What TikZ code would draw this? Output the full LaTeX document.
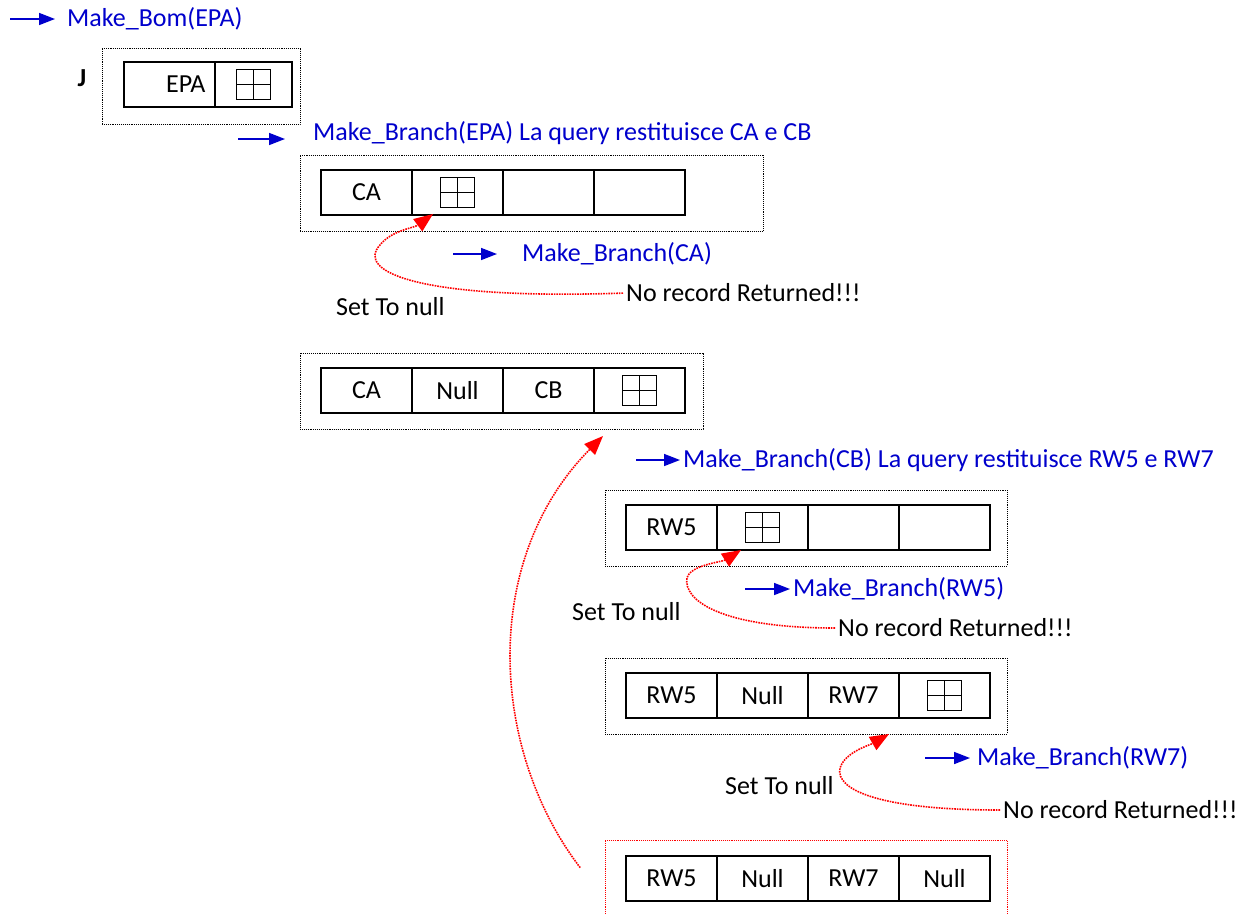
\documentclass[tikz,border=0pt]{standalone}
\usepackage{fontspec}
\setmainfont{Carlito}
\usetikzlibrary{positioning,arrows.meta}

\definecolor{callblue}{RGB}{0,0,204}
\newcommand\bomfont{\fontsize{26pt}{31pt}\selectfont}

\tikzset{
  cell/.style={draw, line width=1.6pt, minimum width=91pt, minimum height=45pt, inner sep=0pt, outer sep=0pt},
  frame/.style={draw, densely dotted, line width=0.9pt, anchor=north west, minimum height=76pt, outer sep=0pt},
  ptr/.style={draw, line width=1.8pt, minimum width=34pt, minimum height=30pt, inner sep=0pt,
    path picture={\draw[line width=1.8pt] (path picture bounding box.north) -- (path picture bounding box.south)
      (path picture bounding box.west) -- (path picture bounding box.east);}},
  call/.style={callblue, line width=1.6pt, -{Triangle[length=16pt,width=12pt]}},
  calltext/.style={text=callblue, anchor=west, inner sep=0pt},
  note/.style={anchor=west, inner sep=0pt},
  back/.style={red, densely dotted, line width=1.6pt, shorten <=3pt, -{Triangle[length=19pt,width=15pt]}},
}

\begin{document}
\begin{tikzpicture}[x=1pt, y=-1pt, font=\bomfont] % make_bom / make_branch trace
    \useasboundingbox (0,0) rectangle (1245,914);

    % call of the root
    \coordinate (s0) at (10,19);
    \node[calltext] (t0) at (67,19) {Make\_Bom(EPA)};
    \draw[call] (s0) -- (t0.west) [shorten >=12pt];

    \node[frame, minimum width=198pt] (fj) at (102,48) {};
    \node[font=\bomfont\bfseries] (j) at (82,78) {J};
    \node[cell, anchor=north west, text width=72pt, align=right] (j1) at (124,62) {EPA};
    \node[cell, minimum width=77pt, right=0pt of j1] (j2) {};
    \node[ptr] (pj) at (j2) {};

    % first branch: CA and CB
    \coordinate (s1) at (238,139);
    \node[calltext] (t1) at (313,133) {Make\_Branch(EPA) La query restituisce CA e CB};
    \draw[call] (s1) -- (s1 -| t1.west) [shorten >=28pt];

    \node[frame, minimum width=463pt] (fa) at (300,155) {};
    \node[cell, anchor=north west] (a1) at (321,170) {CA};
    \node[cell, right=0pt of a1] (a2) {};
    \node[cell, right=0pt of a2] (a3) {};
    \node[cell, right=0pt of a3] (a4) {};
    \node[ptr] (pa) at (a2) {};

    \coordinate (s2) at (453,254);
    \node[calltext] (t2) at (522,254) {Make\_Branch(CA)};
    \draw[call] (s2) -- (t2.west) [shorten >=25pt];
    \node[note] (n1) at (626,293) {No record Returned!!!};
    \node[note] (z1) at (336,307) {Set To null};
    \coordinate (h1) at (433,214);
    \draw[back] (n1.west) .. controls (420,300) and (355,272) .. (380,245)
        .. controls (392,230) and (414,228) .. (h1);

    \node[frame, minimum width=403pt] (fb) at (300,353) {};
    \node[cell, anchor=north west] (b1) at (321,368) {CA};
    \node[cell, right=0pt of b1] (b2) {Null};
    \node[cell, right=0pt of b2] (b3) {CB};
    \node[cell, right=0pt of b3] (b4) {};
    \node[ptr] (pb) at (b4) {};

    % second branch: RW5 and RW7
    \coordinate (s3) at (636,460);
    \node[calltext] (t3) at (683,460) {Make\_Branch(CB) La query restituisce RW5 e RW7};
    \draw[call] (s3) -- (t3.west) [shorten >=3pt];

    \node[frame, minimum width=402pt] (fc) at (605,490) {};
    \node[cell, anchor=north west] (c1) at (626,505) {RW5};
    \node[cell, right=0pt of c1] (c2) {};
    \node[cell, right=0pt of c2] (c3) {};
    \node[cell, right=0pt of c3] (c4) {};
    \node[ptr] (pc) at (c2) {};

    \coordinate (s4) at (745,589);
    \node[calltext] (t4) at (793,589) {Make\_Branch(RW5)};
    \draw[call] (s4) -- (t4.west) [shorten >=3pt];
    \node[note] (n2) at (838,628) {No record Returned!!!};
    \node[note] (z2) at (572,612) {Set To null};
    \coordinate (h2) at (741,550);
    \draw[back] (n2.west) .. controls (720,628) and (683,600) .. (687,578)
        .. controls (690,565) and (722,562) .. (h2);

    \node[frame, minimum width=402pt] (fd) at (605,658) {};
    \node[cell, anchor=north west] (d1) at (626,673) {RW5};
    \node[cell, right=0pt of d1] (d2) {Null};
    \node[cell, right=0pt of d2] (d3) {RW7};
    \node[cell, right=0pt of d3] (d4) {};
    \node[ptr] (pd) at (d4) {};

    \coordinate (s5) at (925,758);
    \node[calltext] (t5) at (977,758) {Make\_Branch(RW7)};
    \draw[call] (s5) -- (t5.west) [shorten >=7pt];
    \node[note] (n3) at (1003,810) {No record Returned!!!};
    \node[note] (z3) at (725,786) {Set To null};
    \coordinate (h3) at (889,734);
    \draw[back] (n3.west) .. controls (880,810) and (835,790) .. (840,768)
        .. controls (845,752) and (870,745) .. (h3);

    % result handed back
    \draw[red, densely dotted, line width=0.9pt] (605,914) |- (1007,840) -- (1007,914);
    \node[cell, anchor=north west] (e1) at (626,856) {RW5};
    \node[cell, right=0pt of e1] (e2) {Null};
    \node[cell, right=0pt of e2] (e3) {RW7};
    \node[cell, right=0pt of e3] (e4) {Null};

    \coordinate (s6) at (582,870);
    \coordinate (h4) at (603,436);
    \draw[back] (s6) .. controls (490,750) and (480,560) .. (h4);
\end{tikzpicture}
\end{document}
